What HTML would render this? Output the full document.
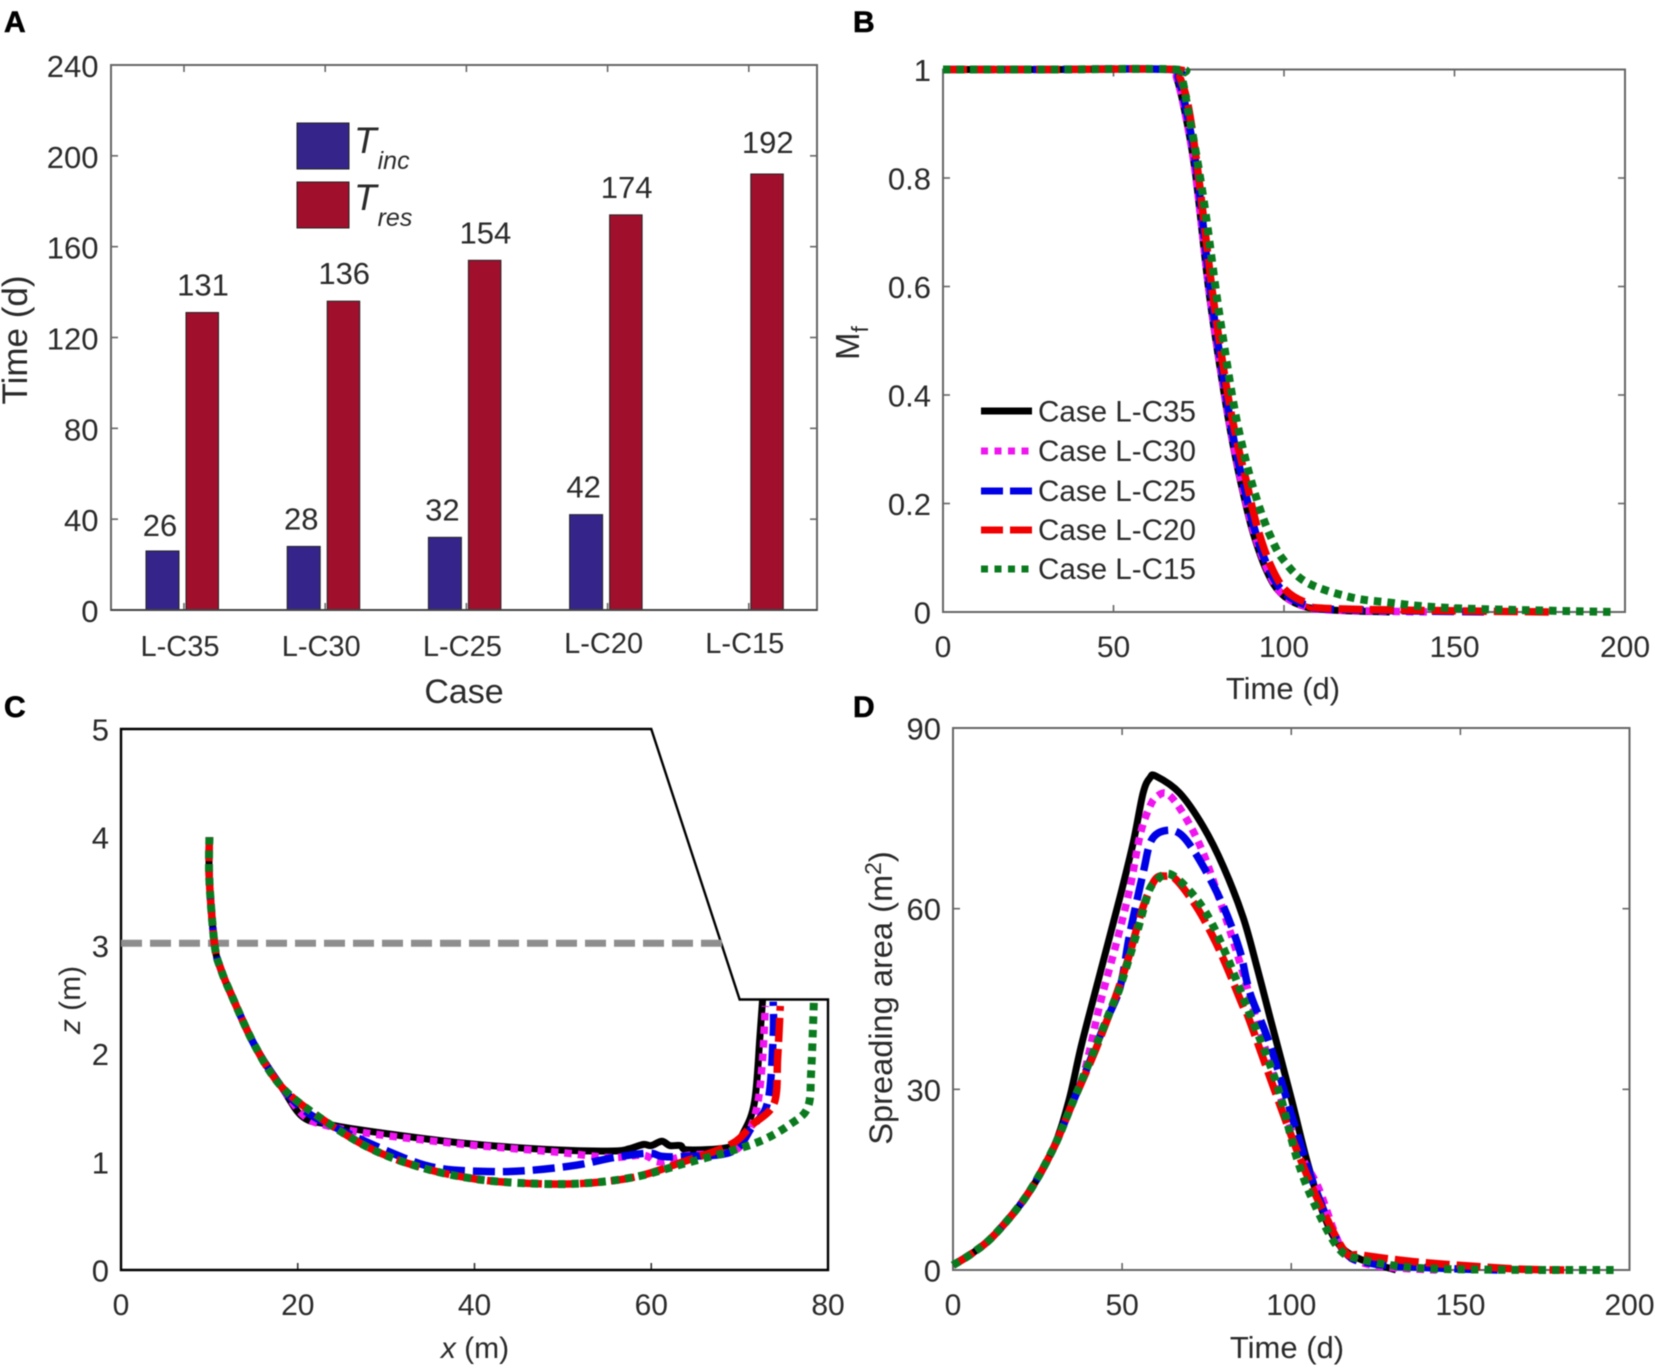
<!DOCTYPE html>
<html lang="en">
<head>
<meta charset="utf-8">
<title>Four-panel chart</title>
<style>
html,body{margin:0;padding:0;background:#fff;width:1655px;height:1369px;overflow:hidden}
svg{display:block;filter:blur(0.45px)}
text{font-family:"Liberation Sans",Arial,sans-serif;fill:#2a2a2a}
.big{font-size:31px}
.mid{font-size:29.6px}
.letter{font-size:30px;font-weight:bold;fill:#000;stroke:#000;stroke-width:.6px}
</style>
</head>
<body>
<svg id="figure" xmlns="http://www.w3.org/2000/svg" width="1655" height="1369" viewBox="0 0 1655 1369">
  <rect x="0" y="0" width="1655" height="1369" fill="#fff"/>

  <text class="letter" x="4" y="32">A</text>
  <text class="letter" x="853" y="32">B</text>
  <text class="letter" x="4" y="717">C</text>
  <text class="letter" x="853" y="717">D</text>

  <g id="panelA">
    <rect x="111" y="65" width="706" height="545" fill="none" stroke="#666" stroke-width="2"/>
    <g id="aTicks"></g>
    <g id="aBars"></g>
    <line x1="111" y1="610" x2="817" y2="610" stroke="#444" stroke-width="2"/>
    <text class="big" transform="translate(27,340) rotate(-90)" text-anchor="middle" style="font-size:35px">Time (d)</text>
    <text x="464" y="703" text-anchor="middle" style="font-size:34px">Case</text>
    <g>
      <rect x="297" y="123" width="52" height="46" fill="#35248a" stroke="#222" stroke-width="1"/>
      <text x="354" y="153" style="font-size:37px;font-style:italic">T<tspan dx="1" dy="16" style="font-size:25px">inc</tspan></text>
      <rect x="297" y="182" width="52" height="46" fill="#a0102d" stroke="#222" stroke-width="1"/>
      <text x="354" y="210" style="font-size:37px;font-style:italic">T<tspan dx="1" dy="16" style="font-size:25px">res</tspan></text>
    </g>
  </g>

  <g id="panelB">
    <rect x="943" y="69.5" width="682" height="542.5" fill="none" stroke="#666" stroke-width="2"/>
    <g id="bTicks"></g>
    <g id="bLines"></g>
    <text transform="translate(859,343) rotate(-90)" text-anchor="middle" style="font-size:33px">M<tspan dy="9" style="font-size:23px">f</tspan></text>
    <text x="1283" y="699" text-anchor="middle" class="big">Time (d)</text>
    <g id="bLegend">
      <line x1="981" y1="411" x2="1032" y2="411" stroke="#000" stroke-width="7"/>
      <text class="mid" x="1038" y="421.5">Case L-C35</text>
      <line x1="981" y1="451" x2="1032" y2="451" stroke="#f014f0" stroke-width="7" stroke-dasharray="7 6.5"/>
      <text class="mid" x="1038" y="461">Case L-C30</text>
      <line x1="981" y1="491" x2="1032" y2="491" stroke="#0000e6" stroke-width="7" stroke-dasharray="22 7"/>
      <text class="mid" x="1038" y="501">Case L-C25</text>
      <line x1="981" y1="530" x2="1032" y2="530" stroke="#f00000" stroke-width="7" stroke-dasharray="22 7"/>
      <text class="mid" x="1038" y="540">Case L-C20</text>
      <line x1="981" y1="569" x2="1032" y2="569" stroke="#0a7a1e" stroke-width="7" stroke-dasharray="7 6.5"/>
      <text class="mid" x="1038" y="579">Case L-C15</text>
    </g>
  </g>

  <g id="panelC">
    <g id="cTicks"></g>
    <path id="cOutline" fill="none" stroke="#000" stroke-width="2.4"/>
    <line id="cWater" stroke="#8e8e8e" stroke-width="7" stroke-dasharray="21 8"/>
    <g id="cLines"></g>
    <text transform="translate(80,1000) rotate(-90)" text-anchor="middle" style="font-size:30px"><tspan font-style="italic">z</tspan> (m)</text>
    <text x="475" y="1358" text-anchor="middle" style="font-size:30px"><tspan font-style="italic">x</tspan> (m)</text>
  </g>

  <g id="panelD">
    <rect x="953" y="728" width="676.5" height="542" fill="none" stroke="#666" stroke-width="2"/>
    <g id="dTicks"></g>
    <g id="dLines"></g>
    <text transform="translate(892,998) rotate(-90)" text-anchor="middle" style="font-size:32.6px">Spreading area (m<tspan dy="-11" style="font-size:23px">2</tspan><tspan dy="11">)</tspan></text>
    <text x="1287" y="1358" text-anchor="middle" class="big">Time (d)</text>
  </g>
</svg>
<script>
/* ---------- Panel A data ---------- */
const barCases = ['L-C35', 'L-C30', 'L-C25', 'L-C20', 'L-C15'];
const tIncValues = [26, 28, 32, 42, 0];
const tResValues = [131, 136, 154, 174, 192];
const aYTicks = [0, 40, 80, 120, 160, 200, 240];

/* ---------- Panel B data: [time, Mf] ---------- */
const mfC35 = [[0,1],[30,1],[66.5,1],[68.5,.985],[71,.92],[74,.81],[78,.59],[82,.42],[85,.31],[88,.22],[91,.145],[95,.075],[99,.035],[105,.012],[113,.004],[131,0]];
const mfC30 = [[0,1],[30,1],[66.5,1],[68.5,.985],[71,.92],[74,.81],[78,.595],[82,.425],[85,.315],[88,.225],[91,.15],[95,.08],[99,.036],[105,.013],[113,.004],[143,0]];
const mfC25 = [[0,1],[30,1],[67,1],[69,.985],[71.5,.92],[74.5,.81],[78.5,.59],[82.5,.42],[85.5,.31],[88.5,.225],[91.5,.15],[95.5,.08],[100,.036],[106,.014],[114,.005],[160,0]];
const mfC20 = [[0,1],[30,1],[67.5,1],[69.5,.985],[72,.93],[75,.8],[79,.59],[83,.42],[86,.32],[89,.24],[92,.16],[96,.087],[100.5,.04],[107,.016],[115,.006],[178,0]];
const mfC15 = [[0,1],[30,1],[68,1],[70,.985],[72,.92],[74.8,.824],[77.3,.722],[79.8,.603],[82.2,.501],[85.6,.37],[89,.274],[92.4,.2],[96,.14],[99.7,.097],[106.5,.055],[119,.028],[130,.018],[150,.007],[197,0]];
const bXTicks = [0, 50, 100, 150, 200];
const bYTicks = [0, 0.2, 0.4, 0.6, 0.8, 1];

/* ---------- Panel C data: [x, z] ---------- */
const slopeOutline = [[0,0],[0,5],[60,5],[70,2.5],[80,2.5],[80,0],[0,0]];
const waterLevel = [[0,3.02],[68,3.02]];
const prC35 = [[10,4],[10,3.6],[10.6,3],[11.3,2.78],[12.4,2.56],[15.1,2.08],[18.1,1.7],[20.5,1.42],[23.2,1.35],[28.3,1.28],[39,1.17],[49.2,1.11],[55.8,1.1],[57.5,1.12],[59.1,1.16],[60,1.15],[61.2,1.19],[62.1,1.15],[63.3,1.15],[64.2,1.11],[69,1.14],[70.5,1.28],[71.7,1.56],[72.3,2.16],[72.6,2.5]];
const prC30 = [[10,4],[10,3.6],[10.6,3],[11.3,2.78],[12.4,2.56],[15.1,2.08],[18.1,1.7],[20.8,1.42],[23.5,1.33],[28.3,1.26],[39,1.16],[49.2,1.09],[55.2,1.04],[59.1,1.06],[60.9,1],[64.2,1.06],[69,1.09],[70.8,1.24],[72,1.52],[72.6,1.96],[72.9,2.44]];
const prC25 = [[10,4],[10,3.6],[10.6,3],[11.3,2.78],[12.4,2.56],[15.1,2.08],[18.1,1.7],[21,1.46],[24.7,1.3],[31.9,1.04],[36,.94],[41.4,.91],[46.2,.92],[51.6,.97],[55.8,1.04],[59.7,1.08],[61.2,1.05],[63.6,1.05],[69,1.09],[71.4,1.32],[73.2,1.56],[73.8,2.16],[73.8,2.48]];
const prC20 = [[10,4],[10,3.6],[10.6,3],[11.3,2.78],[12.4,2.56],[15.1,2.08],[18.1,1.7],[22.3,1.42],[28.3,1.12],[34.3,.94],[40.2,.84],[46.2,.8],[52.2,.8],[58.2,.86],[63.6,1],[69,1.16],[71.4,1.34],[73.9,1.54],[74.3,1.96],[74.6,2.44]];
const prC15 = [[10,4],[10,3.6],[10.6,3],[11.3,2.78],[12.4,2.56],[15.1,2.08],[18.1,1.7],[22.3,1.42],[28.3,1.12],[34.3,.94],[40.2,.84],[46.2,.8],[52.2,.8],[58.2,.86],[63.6,.98],[69,1.1],[72.6,1.2],[75.6,1.34],[77.7,1.5],[78.1,1.84],[78.4,2.48]];
const cXTicks = [0, 20, 40, 60, 80];
const cYTicks = [0, 1, 2, 3, 4, 5];

/* ---------- Panel D data: [time, area] ---------- */
const spC35 = [[0,.8],[6,2.9],[12.2,5.8],[21.6,12.2],[29.5,20],[34.2,28],[38,37.4],[43.5,49.3],[49.4,62],[53.3,71],[56.2,79.2],[58.2,81.7],[60,82],[67,79.2],[74,73.6],[80,66.9],[85.8,58.5],[90,50],[93.7,42],[100,28.5],[104.7,18],[109.4,9.5],[114,4.3],[120.4,1.8],[131,0]];
const spC30 = [[0,.8],[6,2.9],[12.2,5.8],[21.6,12.2],[29.5,20],[35,27.3],[38.9,33],[43.3,43.8],[48.4,54.5],[52.3,63.4],[55.3,72.2],[58,76.7],[60.2,78.6],[63.6,79],[68.6,75.3],[74,69.2],[79.4,60.5],[84.3,52],[92,37.4],[101.6,20.8],[108,13.7],[114.5,4],[120,1.4],[130,.4],[143,0]];
const spC25 = [[0,.8],[6,2.9],[12.2,5.8],[21.6,12.2],[29.5,20],[35,27.3],[40,34],[45,41],[49.4,47],[52.3,55.9],[56.2,65.9],[58.7,71.4],[63.2,73],[68,72],[74,67],[80,60.3],[84.8,53],[87.8,46],[93.7,37.4],[101.6,23],[107,13.7],[115,3.6],[123.5,1.1],[144,.3],[161,0]];
const spC20 = [[0,.8],[6,2.9],[12.2,5.8],[21.6,12.2],[29.5,20],[35,27.3],[41,35],[45.9,42],[49.8,48.2],[52.3,52.6],[56.2,60.3],[59.7,64.8],[62.7,65.4],[66,64.8],[72,60.3],[76.9,55.3],[80.9,50.4],[85.8,43.7],[87.5,41.7],[95.3,29.5],[101.6,20],[108,11.5],[115.7,3.2],[120.4,2.5],[136,1.4],[151.7,.7],[167.4,.15],[180.7,0]];
const spC15 = [[0,.8],[6,2.9],[12.2,5.8],[21.6,12.2],[29.5,20],[35,27.3],[41,35.5],[47.9,45],[49.4,47],[54.3,55.9],[57.7,62.6],[59.7,64.4],[63,65.8],[66.5,64.9],[72,61.6],[76.5,57.6],[81.4,51.5],[85.8,45.2],[95.3,31.6],[101.6,18.7],[107,10.8],[114,3.6],[120.4,1.8],[136,.4],[160,.05],[197,0]];
const dXTicks = [0, 50, 100, 150, 200];
const dYTicks = [0, 30, 60, 90];

/* ---------- Axis functions ---------- */
const aX = i => 184 + i * 141.2;
const aY = v => 610 - v * (545 / 240);
const bX = t => 943 + t * (682 / 200);
const bY = m => 612 - m * 542.5;
const cX = x => 121 + x * (707 / 80);
const cY = z => 1270 - z * (541 / 5);
const dX = t => 953 + t * (676.5 / 200);
const dY = a => 1270 - a * (542 / 90);

const NS = 'http://www.w3.org/2000/svg';
function mk(tag, parent, attrs, txt) {
  const el = document.createElementNS(NS, tag);
  for (const k in attrs) el.setAttribute(k, attrs[k]);
  if (txt !== undefined) el.textContent = txt;
  parent.appendChild(el);
  return el;
}
function smoothPath(pts, fx, fy) {
  const p = pts.map(q => [fx(q[0]), fy(q[1])]);
  let d = 'M' + p[0][0].toFixed(2) + ' ' + p[0][1].toFixed(2);
  for (let i = 0; i < p.length - 1; i++) {
    const p0 = p[Math.max(i - 1, 0)], p1 = p[i], p2 = p[i + 1], p3 = p[Math.min(i + 2, p.length - 1)];
    const c1x = p1[0] + (p2[0] - p0[0]) / 6, c1y = p1[1] + (p2[1] - p0[1]) / 6;
    const c2x = p2[0] - (p3[0] - p1[0]) / 6, c2y = p2[1] - (p3[1] - p1[1]) / 6;
    d += 'C' + c1x.toFixed(2) + ' ' + c1y.toFixed(2) + ' ' + c2x.toFixed(2) + ' ' + c2y.toFixed(2) + ' ' + p2[0].toFixed(2) + ' ' + p2[1].toFixed(2);
  }
  return d;
}
function linePath(pts, fx, fy) {
  return pts.map((q, i) => (i ? 'L' : 'M') + fx(q[0]).toFixed(2) + ' ' + fy(q[1]).toFixed(2)).join('');
}

/* Shared series styling */
const seriesNames = ['l-c35', 'l-c30', 'l-c25', 'l-c20', 'l-c15'];
const seriesColors = ['#000000', '#f014f0', '#0000e6', '#f00000', '#0a7a1e'];
const seriesDashes = ['none', '7.5 6', '22 8', '24 7', '7.5 6'];
const seriesWidths = [7, 7.5, 7.5, 7.5, 8];

function drawLines(groupId, prefix, list, fx, fy) {
  const g = document.getElementById(groupId);
  list.forEach((pts, i) => {
    const path = mk('path', g, {
      d: smoothPath(pts, fx, fy), fill: 'none', stroke: seriesColors[i],
      'stroke-width': seriesWidths[i], 'stroke-dasharray': seriesDashes[i], 'stroke-linejoin': 'round'
    });
    
    
  });
}

function drawTicks(groupId, prefix, o) {
  const g = document.getElementById(groupId);
  o.xTicks.forEach(v => {
    const x = o.fx(v);
    if (o.innerOnly ? (v > o.xTicks[0] && v < o.xTicks[o.xTicks.length - 1]) : true) {
      const t1 = mk('line', g, {x1: x, x2: x, y1: o.bottom, y2: o.bottom - 7, stroke: o.color, 'stroke-width': 1.6});
      
      
      if (o.top !== undefined) {
        const t2 = mk('line', g, {x1: x, x2: x, y1: o.top, y2: o.top + 7, stroke: o.color, 'stroke-width': 1.6});
        
        
      }
    }
    const lab = mk('text', g, {x: x + (o.xLabelDx || 0), y: o.xLabelY, 'text-anchor': 'middle', 'font-size': 30}, String(v));
    
    
  });
  o.yTicks.forEach(v => {
    const y = o.fy(v);
    if (o.left !== undefined && o.right !== undefined) {
      const t1 = mk('line', g, {x1: o.left, x2: o.left + 7, y1: y, y2: y, stroke: o.color, 'stroke-width': 1.6});
      
      
      const t2 = mk('line', g, {x1: o.right, x2: o.right - 7, y1: y, y2: y, stroke: o.color, 'stroke-width': 1.6});
      
      
    }
    const lab = mk('text', g, {x: o.yLabelX, y: y + 11.5, 'text-anchor': 'end', 'font-size': 31}, String(v));
    
    
  });
}

/* ---------- Panel A ---------- */
(function () {
  const tg = document.getElementById('aTicks');
  aYTicks.forEach(v => {
    const y = aY(v);
    const t1 = mk('line', tg, {x1: 111, x2: 118, y1: y, y2: y, stroke: '#666', 'stroke-width': 1.6});
    
    
    const t2 = mk('line', tg, {x1: 817, x2: 810, y1: y, y2: y, stroke: '#666', 'stroke-width': 1.6});
    
    
    const lab = mk('text', tg, {x: 98.5, y: y + 12, 'text-anchor': 'end', 'font-size': 31}, String(v));
    
    
  });
  const bg = document.getElementById('aBars');
  barCases.forEach((name, i) => {
    const cx = aX(i);
    const t1 = mk('line', tg, {x1: cx, x2: cx, y1: 610, y2: 603, stroke: '#666', 'stroke-width': 1.6});
    
    
    const t2 = mk('line', tg, {x1: cx, x2: cx, y1: 65, y2: 72, stroke: '#666', 'stroke-width': 1.6});
    
    
    const lab = mk('text', tg, {x: cx - 4, y: i >= 3 ? 653 : 656, 'text-anchor': 'middle', 'font-size': 29}, name);
    
    

    const inc = tIncValues[i];
    if (inc > 0) {
      const r = mk('rect', bg, {x: cx - 38, y: aY(inc), width: 33, height: 610 - aY(inc), fill: '#35248a', stroke: '#222', 'stroke-width': 1});
      
      
      const vl = mk('text', bg, {x: cx - 24, y: aY(inc) - (i === 0 ? 15 : 17), 'text-anchor': 'middle', 'font-size': 31}, String(inc));
      
      
    }
    const res = tResValues[i];
    const r2 = mk('rect', bg, {x: cx + 2, y: aY(res), width: 32.5, height: 610 - aY(res), fill: '#a0102d', stroke: '#222', 'stroke-width': 1});
    
    
    const vl2 = mk('text', bg, {x: cx + 19, y: aY(res) - (i === 4 ? 21 : 17), 'text-anchor': 'middle', 'font-size': 31}, String(res));
    
    
  });
})();

/* ---------- Panel B ---------- */
drawTicks('bTicks', 'panel-b', {xTicks: bXTicks, yTicks: bYTicks, fx: bX, fy: bY, bottom: 612, top: 69.5, left: 943, right: 1625, color: '#666', xLabelY: 657, yLabelX: 931});
drawLines('bLines', 'mf', [mfC35, mfC30, mfC25, mfC20, mfC15], bX, bY);

/* ---------- Panel C ---------- */
document.getElementById('cOutline').setAttribute('d', linePath(slopeOutline, cX, cY) + 'Z');
(function () {
  const w = document.getElementById('cWater');
  w.setAttribute('x1', cX(waterLevel[0][0]));
  w.setAttribute('y1', cY(waterLevel[0][1]));
  w.setAttribute('x2', cX(waterLevel[1][0]));
  w.setAttribute('y2', cY(waterLevel[1][1]));
})();
drawTicks('cTicks', 'panel-c', {xTicks: cXTicks, yTicks: cYTicks, fx: cX, fy: cY, bottom: 1270, innerOnly: true, color: '#333', xLabelY: 1315, yLabelX: 109});
drawLines('cLines', 'profile', [prC35, prC30, prC25, prC20, prC15], cX, cY);

/* ---------- Panel D ---------- */
drawTicks('dTicks', 'panel-d', {xTicks: dXTicks, yTicks: dYTicks, fx: dX, fy: dY, bottom: 1270, top: 728, left: 953, right: 1629.5, color: '#666', xLabelY: 1315, yLabelX: 941});
drawLines('dLines', 'area', [spC35, spC30, spC25, spC20, spC15], dX, dY);
</script>
</body>
</html>
